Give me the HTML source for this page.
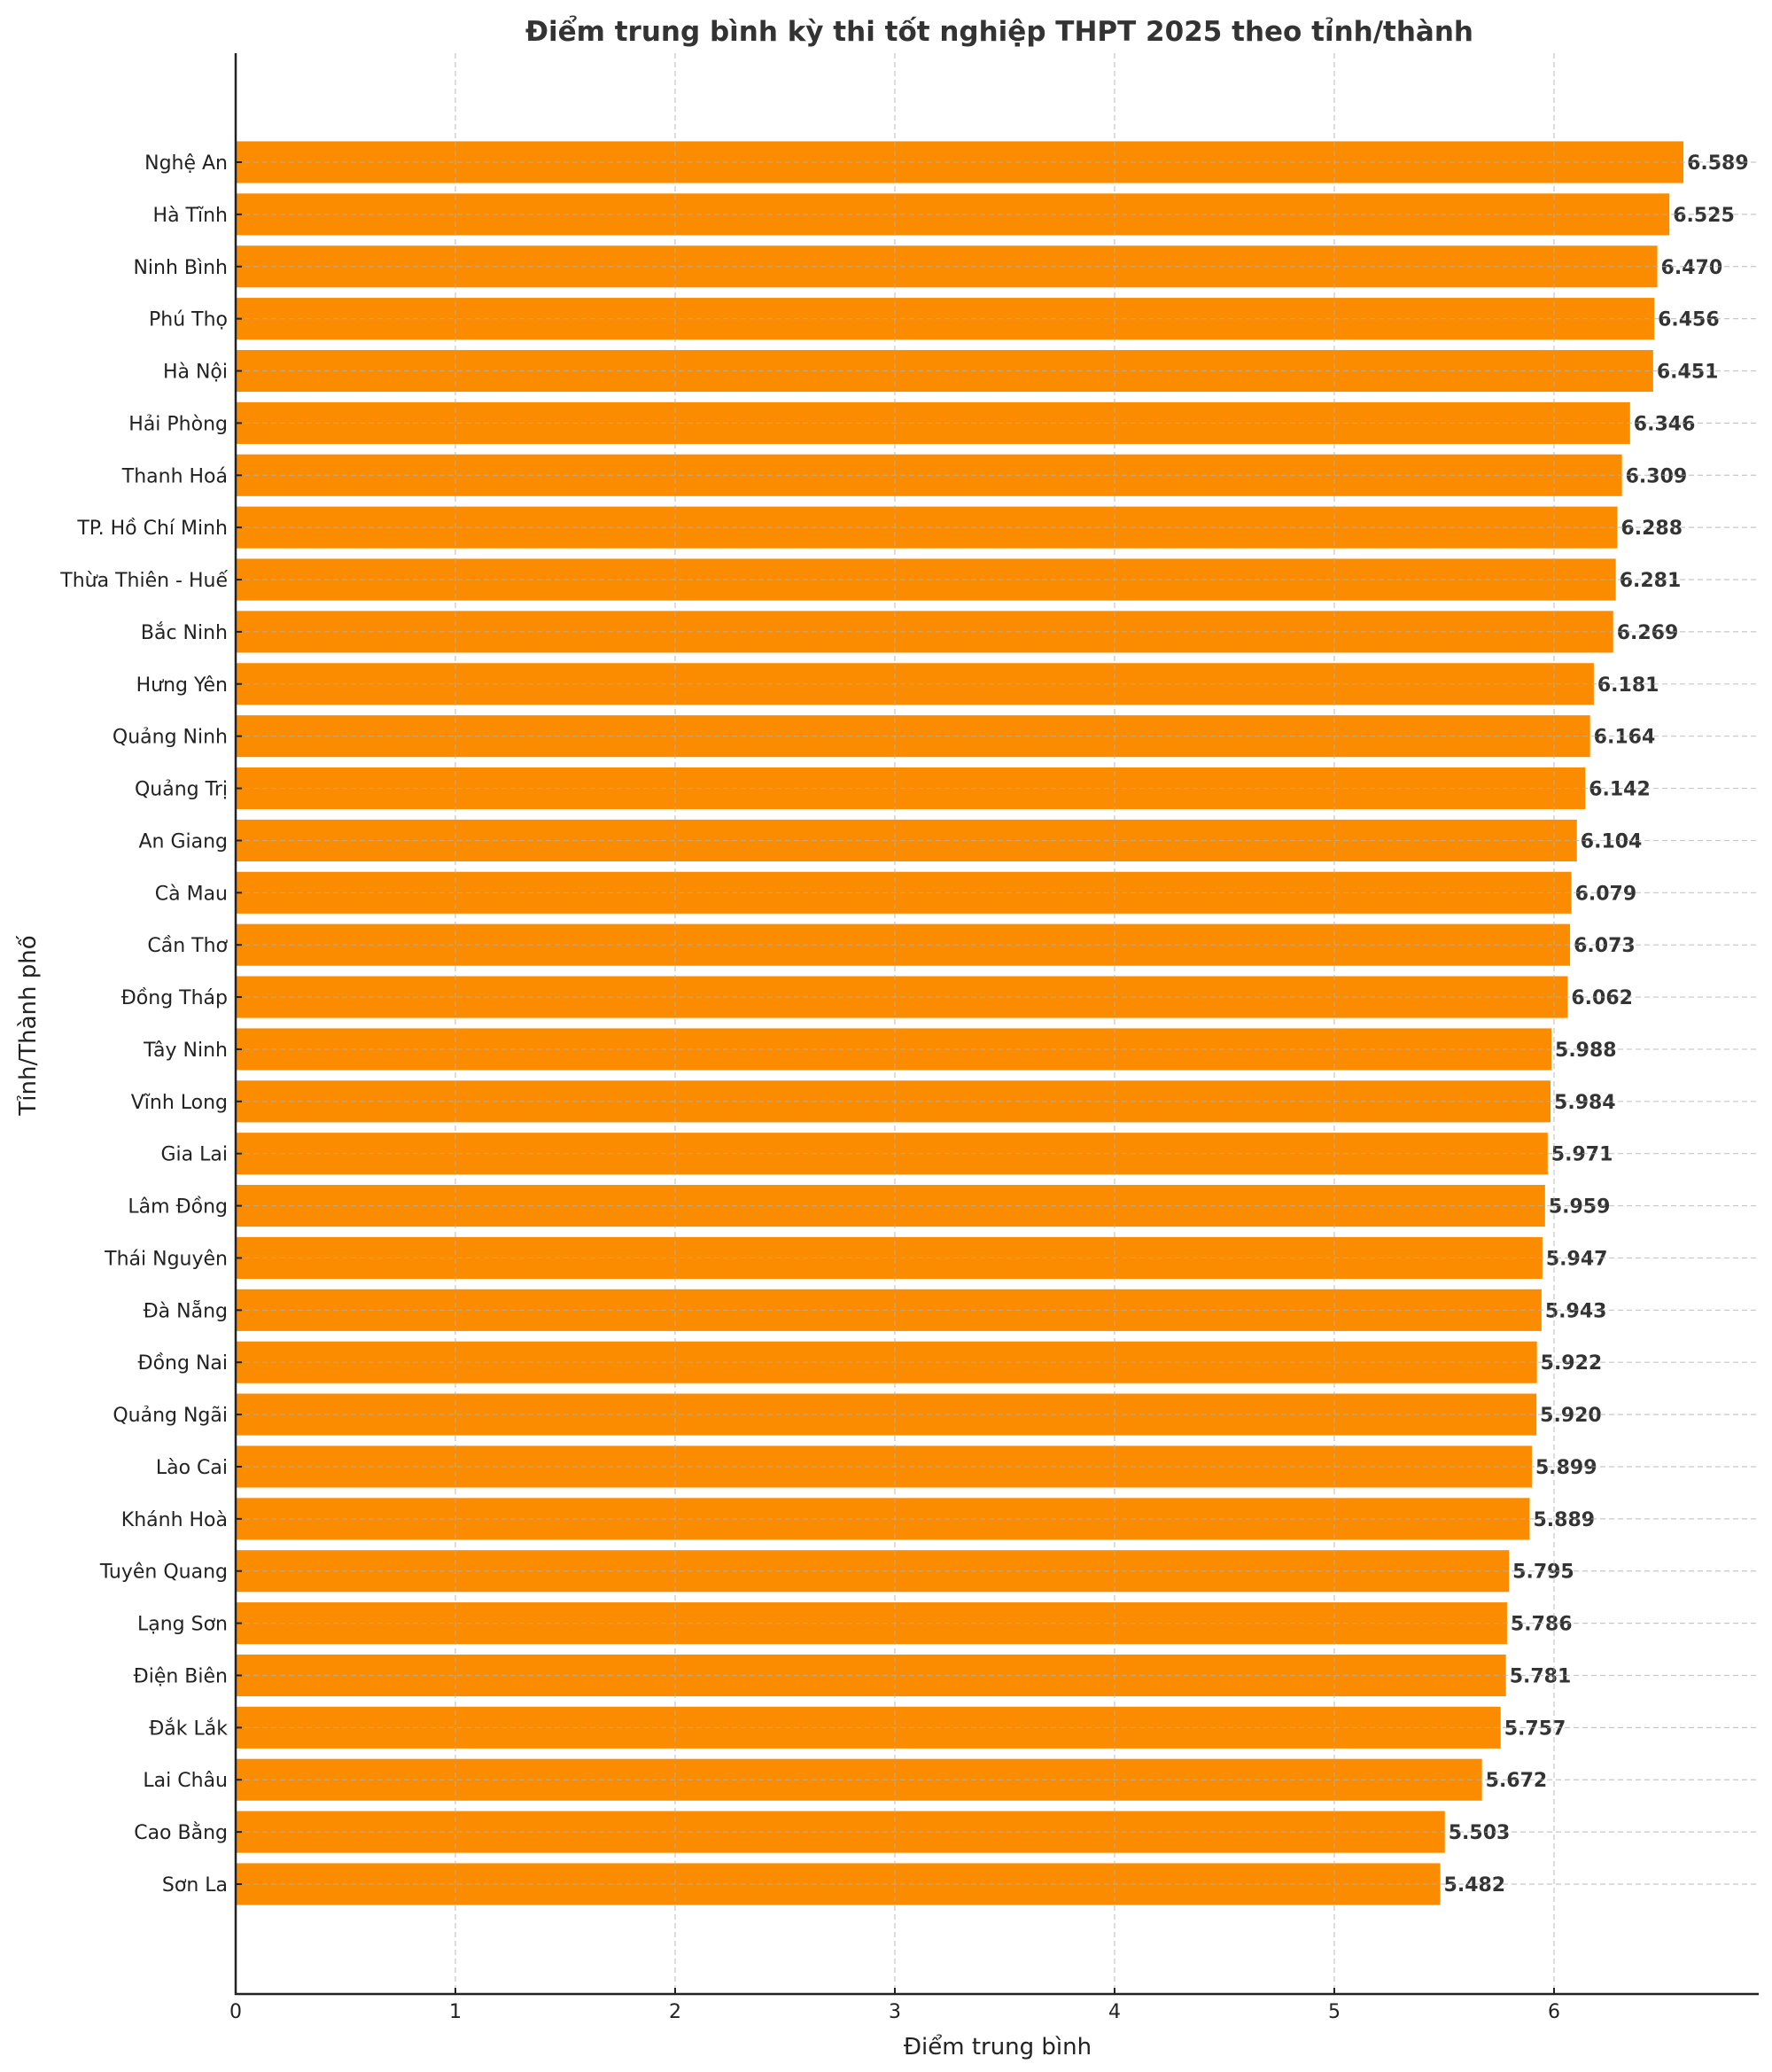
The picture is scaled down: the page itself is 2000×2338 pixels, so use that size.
<!DOCTYPE html>
<html><head><meta charset="utf-8"><style>
html,body{margin:0;padding:0;background:#fff}
svg{display:block;font-family:"DejaVu Sans","Liberation Sans",sans-serif}
</style></head><body>
<svg id="chart" width="2000" height="2338" viewBox="0 0 2000 2338" xmlns="http://www.w3.org/2000/svg">
<text x="1128" y="46" text-anchor="middle" font-size="31" font-weight="bold" fill="#333">Điểm trung bình kỳ thi tốt nghiệp THPT 2025 theo tỉnh/thành</text>
<text x="1126" y="2318" text-anchor="middle" font-size="26" fill="#222">Điểm trung bình</text>
<text transform="translate(40,1157) rotate(-90)" text-anchor="middle" font-size="26" fill="#222">Tỉnh/Thành phố</text>
<g id="bars"></g><g id="grid"></g><g id="axes"></g>
</svg>
<script>
const categories=["Nghệ An","Hà Tĩnh","Ninh Bình","Phú Thọ","Hà Nội","Hải Phòng","Thanh Hoá","TP. Hồ Chí Minh","Thừa Thiên - Huế","Bắc Ninh","Hưng Yên","Quảng Ninh","Quảng Trị","An Giang","Cà Mau","Cần Thơ","Đồng Tháp","Tây Ninh","Vĩnh Long","Gia Lai","Lâm Đồng","Thái Nguyên","Đà Nẵng","Đồng Nai","Quảng Ngãi","Lào Cai","Khánh Hoà","Tuyên Quang","Lạng Sơn","Điện Biên","Đắk Lắk","Lai Châu","Cao Bằng","Sơn La"];
const values=[6.589,6.525,6.470,6.456,6.451,6.346,6.309,6.288,6.281,6.269,6.181,6.164,6.142,6.104,6.079,6.073,6.062,5.988,5.984,5.971,5.959,5.947,5.943,5.922,5.920,5.899,5.889,5.795,5.786,5.781,5.757,5.672,5.503,5.482];
const xTicks=[0,1,2,3,4,5,6];
const NS="http://www.w3.org/2000/svg";
const L=266,R=1985,T=60,B=2250,unit=248;
const firstY=183,lastY=2126;
const step=(lastY-firstY)/(categories.length-1);
const bh=step*0.8;
const xs=v=>L+v*unit;
const ys=i=>firstY+i*step;
function mk(tag,attrs,parent){const e=document.createElementNS(NS,tag);for(const k in attrs)e.setAttribute(k,attrs[k]);parent.appendChild(e);return e;}
const gb=document.getElementById('bars'),gg=document.getElementById('grid'),ga=document.getElementById('axes');
categories.forEach((c,i)=>{
  const r=mk('rect',{x:L,y:ys(i)-bh/2,width:xs(values[i])-L,height:bh,fill:'#fb8c00'},gb);
  
  
  const vl=mk('text',{x:xs(values[i])+4,y:ys(i)+8,'font-size':22,'font-weight':'bold',fill:'#333'},gb);
  vl.textContent=values[i].toFixed(3);
  
  
  const gl=mk('line',{x1:L,x2:R,y1:ys(i),y2:ys(i),stroke:'#b0b0b0','stroke-width':1.2,'stroke-dasharray':'6,4',opacity:0.7},gg);
  
  
  mk('line',{x1:L,x2:L+7,y1:ys(i),y2:ys(i),stroke:'#222','stroke-width':2},ga);
  const tl=mk('text',{x:L-9,y:ys(i)+8,'text-anchor':'end','font-size':22,fill:'#222'},ga);
  tl.textContent=c;
  
  
});
xTicks.forEach(t=>{
  if(t>0){const gl=mk('line',{x1:xs(t),x2:xs(t),y1:T,y2:B,stroke:'#b0b0b0','stroke-width':1.2,'stroke-dasharray':'6,4',opacity:0.7},gg);
  
  }
  mk('line',{x1:xs(t),x2:xs(t),y1:B,y2:B-7,stroke:'#222','stroke-width':2},ga);
  const tl=mk('text',{x:xs(t),y:B+27,'text-anchor':'middle','font-size':22,fill:'#222'},ga);
  tl.textContent=t;
  
  
});
const ya=mk('line',{x1:L,x2:L,y1:T,y2:B+1,stroke:'#222','stroke-width':2.5},ga);


const xa=mk('line',{x1:L-1,x2:R,y1:B,y2:B,stroke:'#222','stroke-width':2.5},ga);


</script>
</body></html>
